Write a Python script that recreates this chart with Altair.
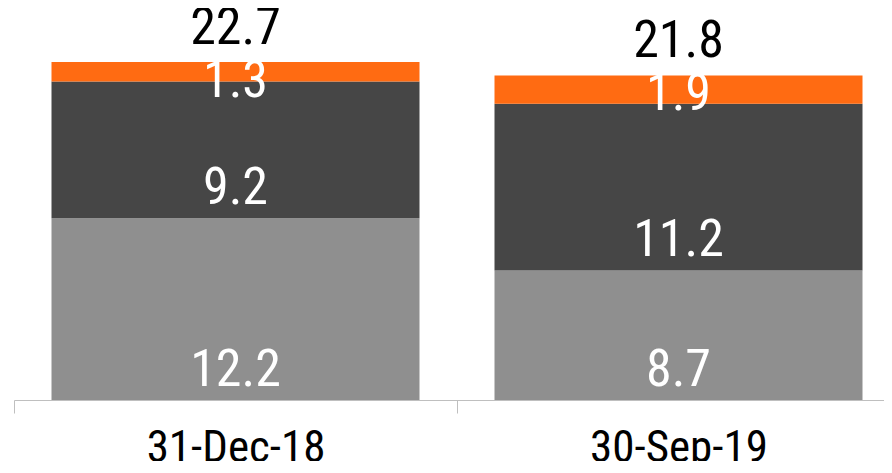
import altair as alt
import pandas as pd

dates = ["31-Dec-18", "30-Sep-19"]
series = ["Segment A", "Segment B", "Segment C"]
series_a = [12.2, 8.7]
series_b = [9.2, 11.2]
series_c = [1.3, 1.9]
colors = ["#8f8f8f", "#464646", "#ff6b12"]

rows = []
for i, d in enumerate(dates):
    for k, (s, vals) in enumerate(zip(series, [series_a, series_b, series_c])):
        rows.append({"date": d, "idx": i, "series": s, "value": vals[i], "order": k})
df = pd.DataFrame(rows)

FONT = "Liberation Sans Narrow, Roboto Condensed, DejaVu Sans Condensed, sans-serif"
W = 870
H = 392
STEP = 443          # pixel width of one category slot
BAR_W = 368

label_expr = " : ".join(
    f"datum.value == {i + 0.5} ? '{d}'" for i, d in enumerate(dates)
) + " : ''"

x_enc = alt.X(
    "xc:Q",
    scale=alt.Scale(domain=[0, W / STEP], nice=False, zero=True, padding=0),
    axis=alt.Axis(
        title=None, values=[0, 0.5, 1, 1.5], labelExpr=label_expr,
        labelAngle=0, labelOverlap=False, labelFlush=False,
        tickSize=13, tickColor="#bfbfbf", tickWidth=1,
        tickOpacity={"condition": {"test": "datum.value % 1 === 0", "value": 1}, "value": 0},
        domain=True, domainColor="#bfbfbf", domainWidth=1,
        labelFontSize=45, labelFont=FONT, labelColor="black", labelPadding=12,
        labelLimit=0, grid=False,
    ),
)
y_scale = alt.Scale(domain=[0, 26.33], nice=False, zero=True, padding=0)

base = alt.Chart(df).transform_calculate(xc="datum.idx + 0.5").transform_stack(
    stack="value", groupby=["date"], as_=["y0", "y1"],
    sort=[alt.SortField("order", order="ascending")],
)

bars = base.mark_bar(width=BAR_W).encode(
    x=x_enc,
    y=alt.Y("y0:Q", scale=y_scale, axis=None),
    y2="y1:Q",
    color=alt.Color("series:N", scale=alt.Scale(domain=series, range=colors), legend=None),
)

low_labels = base.transform_filter("datum.order < 2").mark_text(
    color="white", fontSize=52, font=FONT, baseline="middle", dy=-30
).encode(
    x=x_enc,
    y=alt.Y("y0:Q", scale=y_scale, axis=None),
    text=alt.Text("value:Q", format=".1f"),
)

top_labels = base.transform_filter("datum.order == 2").mark_text(
    color="white", fontSize=52, font=FONT, baseline="middle", dy=19
).encode(
    x=x_enc,
    y=alt.Y("y1:Q", scale=y_scale, axis=None),
    text=alt.Text("value:Q", format=".1f"),
)

totals = alt.Chart(df).transform_aggregate(
    total="sum(value)", groupby=["date", "idx"]
).transform_calculate(xc="datum.idx + 0.5").mark_text(
    color="black", fontSize=52, font=FONT, baseline="middle", dy=-34
).encode(
    x=x_enc,
    y=alt.Y("total:Q", scale=y_scale, axis=None),
    text=alt.Text("total:Q", format=".1f"),
)

chart = alt.layer(bars, low_labels, top_labels, totals).properties(
    width=W, height=H,
    autosize=alt.AutoSizeParams(type="none"),
    padding={"left": 6, "top": 0, "right": 0, "bottom": 61},
    background="white",
).configure_view(stroke=None)

chart.save("out.html", embed_options={"renderer": "svg", "actions": False})
